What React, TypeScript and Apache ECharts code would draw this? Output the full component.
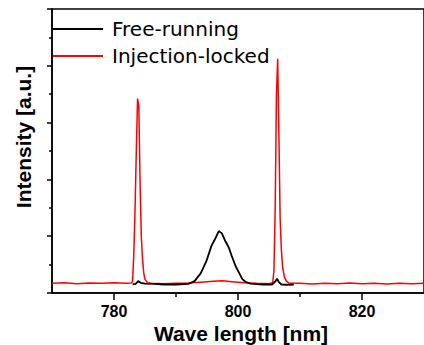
import React, { useEffect, useRef } from "react";
import * as echarts from "echarts";

const seriesNames = ["Free-running", "Injection-locked"];

const freeWave = [783.0, 783.5, 783.9, 784.3, 785, 786.5, 788, 790, 792, 793, 794, 794.9, 795.7, 796.3, 796.9, 797.4, 797.9, 798.5, 799.0, 799.6, 800.2, 800.7, 801.3, 802, 803, 804, 805.5, 806.0, 806.3, 806.6, 807, 808, 809];
const freeInt = [0.3, 0.32, 0.42, 0.36, 0.33, 0.32, 0.3, 0.3, 0.32, 0.42, 0.7, 1.12, 1.65, 1.9, 2.18, 2.1, 1.85, 1.61, 1.3, 0.95, 0.7, 0.49, 0.38, 0.33, 0.31, 0.3, 0.3, 0.4, 0.5, 0.38, 0.3, 0.29, 0.3];

const lockWave = [770, 772, 774, 776, 778, 780, 782, 782.8, 783.0, 783.2, 783.4, 783.6, 783.8, 784.0, 784.2, 784.4, 784.6, 784.8, 785.0, 785.4, 786, 788, 790, 792, 794, 796, 797.5, 799, 801, 803, 805, 805.6, 805.8, 806.0, 806.2, 806.4, 806.6, 806.8, 807.0, 807.2, 807.5, 807.8, 808.2, 810, 812, 814, 816, 818, 820, 822, 824, 826, 828, 830];
const lockInt = [0.34, 0.36, 0.33, 0.35, 0.34, 0.36, 0.34, 0.35, 0.42, 1.4, 3.0, 5.0, 6.84, 6.6, 4.0, 2.0, 1.2, 0.7, 0.48, 0.36, 0.34, 0.33, 0.34, 0.35, 0.38, 0.41, 0.43, 0.4, 0.36, 0.34, 0.33, 0.36, 0.8, 3.0, 7.0, 8.25, 5.5, 2.6, 1.5, 0.9, 0.55, 0.42, 0.35, 0.34, 0.32, 0.34, 0.33, 0.35, 0.33, 0.34, 0.32, 0.34, 0.33, 0.34];

const majorXTicks = [780, 800, 820];
const minorXTicks = [790, 810];

const FONT = "'Liberation Sans', Arial, sans-serif";
const LEGEND_FONT = "'DejaVu Sans', sans-serif";

export default function App() {
  const ref = useRef<HTMLDivElement>(null);
  useEffect(() => {
    if (!ref.current) return;
    const chart = echarts.init(ref.current, undefined, { renderer: "svg" });
    const pair = (xs: number[], ys: number[]) => xs.map((x, i) => [x, ys[i]]);
    chart.setOption({
      animation: false,
      backgroundColor: "#fff",
      grid: {
        left: 52,
        top: 9,
        width: 380,
        height: 284,
        show: true,
        borderColor: "#000",
        borderWidth: 1.5,
      },
      legend: {
        orient: "vertical",
        left: 53,
        top: 19,
        padding: 0,
        itemWidth: 50,
        itemHeight: 2,
        itemGap: 7,
        icon: "rect",
        data: seriesNames,
        textStyle: {
          fontFamily: LEGEND_FONT,
          fontSize: 20,
          lineHeight: 20,
          color: "#000",
          padding: [0, 0, 0, 4],
        },
      },
      xAxis: [
        {
          type: "value",
          min: 770,
          max: 830,
          axisLine: { show: true, lineStyle: { color: "#000", width: 1.5 } },
          axisTick: { show: true, customValues: majorXTicks, length: 7, lineStyle: { color: "#000", width: 1.5 } },
          axisLabel: {
            show: true,
            customValues: majorXTicks,
            margin: 10,
            fontFamily: FONT,
            fontSize: 16,
            fontWeight: "bold",
            color: "#000",
          },
          splitLine: { show: false },
        },
        {
          type: "value",
          min: 770,
          max: 830,
          position: "bottom",
          axisLine: { show: false },
          axisTick: { show: true, customValues: minorXTicks, length: 4, lineStyle: { color: "#000", width: 1.5 } },
          axisLabel: { show: false },
          splitLine: { show: false },
        },
      ],
      yAxis: {
        type: "value",
        min: 0,
        max: 10,
        interval: 2,
        axisLine: { show: true, lineStyle: { color: "#000", width: 1.5 } },
        axisTick: { show: true, length: 5, lineStyle: { color: "#000", width: 1.5 } },
        minorTick: { show: true, splitNumber: 2, length: 3, lineStyle: { color: "#000", width: 1.5 } },
        axisLabel: { show: false },
        splitLine: { show: false },
      },
      graphic: [
        {
          type: "text",
          x: 241,
          y: 333,
          style: {
            text: "Wave length [nm]",
            fill: "#000",
            font: `bold 21px ${FONT}`,
            textAlign: "center",
            textVerticalAlign: "middle",
          },
        },
        {
          type: "text",
          x: 23,
          y: 137,
          rotation: Math.PI / 2,
          style: {
            text: "Intensity [a.u.]",
            fill: "#000",
            font: `bold 21px ${FONT}`,
            textAlign: "center",
            textVerticalAlign: "middle",
          },
        },
      ],
      series: [
        {
          name: seriesNames[0],
          type: "line",
          data: pair(freeWave, freeInt),
          showSymbol: false,
          smooth: false,
          lineStyle: { color: "#000", width: 1.8 },
          itemStyle: { color: "#000" },
          z: 3,
        },
        {
          name: seriesNames[1],
          type: "line",
          data: pair(lockWave, lockInt),
          showSymbol: false,
          smooth: false,
          lineStyle: { color: "#ff0000", width: 1.5 },
          itemStyle: { color: "#ff0000" },
          z: 2,
        },
      ],
    });
    return () => chart.dispose();
  }, []);
  return <div ref={ref} style={{ width: 424, height: 345, position: "absolute", left: 0, top: 0 }} />;
}
